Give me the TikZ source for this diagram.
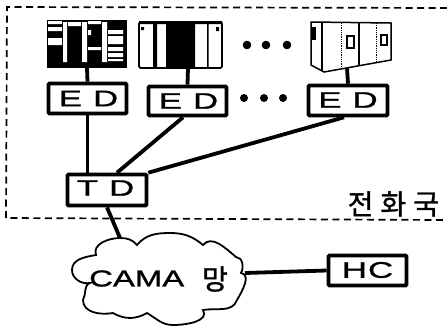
\documentclass[tikz,border=0pt]{standalone}
\usepackage{fontspec}
\setmainfont{Liberation Sans}
\newfontfamily\lab[FakeBold=1.2,FakeStretch=1.55]{Liberation Sans}
\newfontfamily\labc[FakeBold=1.2,FakeStretch=1.43]{Liberation Sans}
\newfontfamily\krfont[LetterSpace=25,FakeBold=1.2]{Noto Sans CJK KR}
\newfontfamily\krplain[FakeBold=1.2]{Noto Sans CJK KR}
\tikzset{
  unitbox/.style={draw=black,line width=3.6pt,rounded corners=1pt,fill=white,inner sep=0pt,text=black},
  wire/.style={line width=3.8pt,black},
  frameline/.style={line width=1.7pt,dash pattern=on 7pt off 4.5pt},
  fineline/.style={line width=1.1pt,black},
  dotfine/.style={line width=.9pt,black,dash pattern=on 1pt off .8pt},
  edtext/.style={font=\fontsize{22.5}{22.5}\selectfont\lab,inner sep=0pt},
}
\begin{document}
\begin{tikzpicture}[x=1pt,y=-1pt]
\useasboundingbox (0,0) rectangle (447,330);
\fill[white] (0,0) rectangle (447,330);
% office frame
\draw[frameline] (447,8) -- (7,7) -- (6,218) -- (447,220);

% device 1
\fill[black] (47,20) rectangle (127,68);
\fill[white] (63,22) rectangle (67,62) (82,22) rectangle (87,62) (102,22) rectangle (107,62);
\fill[white] (48,21) rectangle (62,24) (48,27) rectangle (62,31) (48,38) rectangle (62,45);
\fill[white] (68,22) rectangle (81,26) (88,21) rectangle (101,24) (88,30) rectangle (91,35) (88,47) rectangle (101,50);
\fill[white] (108,30) rectangle (123,34) (108,36) rectangle (123,44) (108,47) rectangle (123,51) (108,53) rectangle (123,57) (108,59) rectangle (123,61);
% device 2
\draw[line width=1.8pt,rounded corners=2pt,fill=white] (139,22) rectangle (222,68);
\fill[black] (139,21) rectangle (222,24) (153,22) rectangle (157,67) (166,22) rectangle (195,67) (207,22) rectangle (208.5,67);
\fill[black] (141,27) rectangle (144,30) (216,27) rectangle (219,31);
% device 3
\draw[line width=1.5pt,fill=white] (311,22) -- (391,23) -- (391,60) -- (324,72) -- (311,65) -- cycle;
\draw[fineline] (322,23) -- (322,71);
\draw[line width=1.7pt] (359,23) -- (359,65);
\draw[dotfine] (341,23) -- (341,68) (376,23) -- (376,62);
\fill[black] (311,27) rectangle (316,40);
\draw[fineline] (347,36) rectangle (354,48) (381,35) rectangle (387,45);

% ellipsis dots
\foreach \p in {(247,45),(266,45),(287,45)} \fill[black] \p circle (4.3);
\foreach \p in {(244,98),(264,98),(283,98)} \fill[black] \p circle (4);

% coordinates of the equipment and cloud ports
\coordinate (devA) at (87,68);
\coordinate (devB) at (188,68);
\coordinate (devC) at (347,68);
\coordinate (cloudtop) at (120,238);
\coordinate (cloudright) at (245,273);

% boxes
\node[unitbox,minimum width=78pt,minimum height=30pt] (edA) at (87.5,98.5) {};
\node[unitbox,minimum width=78pt,minimum height=29pt] (edB) at (187.5,101) {};
\node[unitbox,minimum width=79pt,minimum height=30pt] (edC) at (348,100.5) {};
\node[unitbox,minimum width=79pt,minimum height=31pt] (td) at (107,190) {};
\node[unitbox,minimum width=78pt,minimum height=30pt] (hc) at (367.5,270.5) {};

% connectors
\draw[wire] (devA) -- (edA.north);
\draw[wire] (devB) -- (edB.north);
\draw[wire] (devC) -- (edC.north);
\draw[wire] (edA.south) -- (edA.south |- td.north);
\draw[wire] ([xshift=-4.5pt]edB.south) -- ([xshift=10pt]td.north);
\draw[wire] ([xshift=-4pt]edC.south) -- (td.north east);
\draw[wire] (td.south) -- (cloudtop);
\draw[wire] (cloudright) -- (hc.west);

% cloud
\draw[line width=1.8pt,fill=white]
  (96,255) to[out=110,in=180] (cloudtop)
  to[out=0,in=130] (137,245)
  to[out=50,in=180] (170,233)
  to[out=0,in=140] (203,245)
  to[out=50,in=140] (236,257)
  to[out=0,in=60] (241,273)
  to[out=-10,in=60] (237,300)
  to[out=-110,in=10] (203,310)
  to[out=-60,in=0] (173,325)
  to[out=180,in=-30] (147,313)
  to[out=-150,in=-30] (113,313)
  to[out=-170,in=-90] (83,300)
  to[out=60,in=-160] (90,283)
  to[out=-170,in=-90] (72,270)
  to[out=90,in=190] (96,255)
  -- cycle;

% labels
\node[edtext] (tEDa) at (88.5,98.5) {E\kern11pt D};
\node[edtext] (tEDb) at (188.5,101) {E\kern11pt D};
\node[edtext] (tEDc) at (348,100) {E\kern11pt D};
\node[edtext] (tTD) at (105.5,188) {T\kern11pt D};
\node[edtext] (tHC) at (367.5,270) {H\kern1pt C};
\node[anchor=west,inner sep=0pt,font=\fontsize{23}{23}\selectfont\labc] (tCAMA) at (89,278.5) {CAMA};
\node[anchor=west,inner sep=0pt,font=\fontsize{28}{28}\selectfont\krplain] (tmang) at (202,279) {망};
\node[anchor=west,inner sep=0pt,font=\fontsize{28}{28}\selectfont\krfont] (tkuk) at (347.5,204) {전화국};
\end{tikzpicture}
\end{document}
